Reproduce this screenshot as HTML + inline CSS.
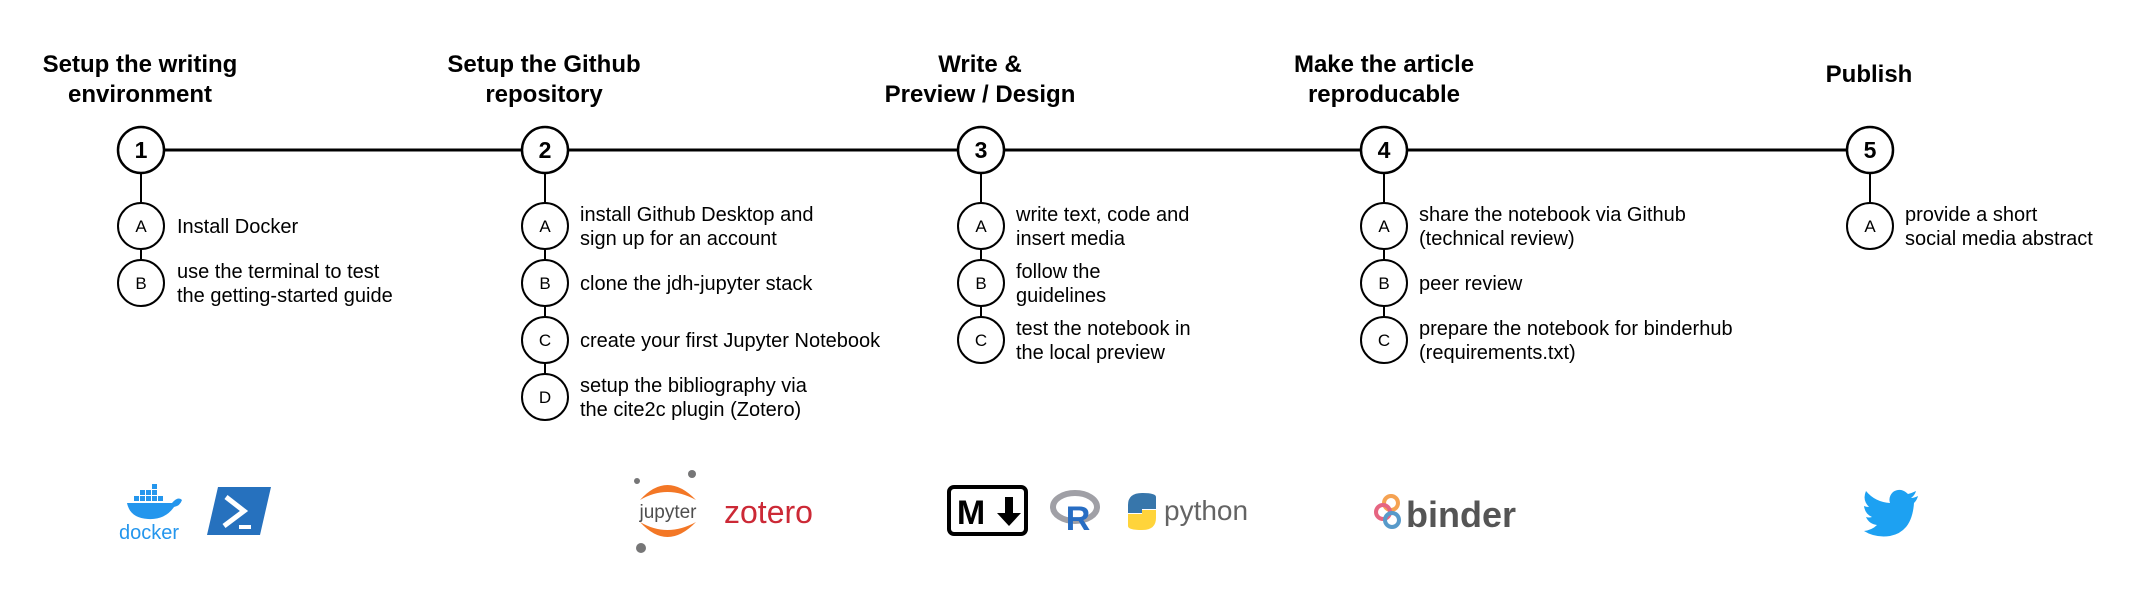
<!DOCTYPE html>
<html><head><meta charset="utf-8"><style>
html,body{margin:0;padding:0;background:#fff;}
svg{display:block}
.t{font-family:"Liberation Sans",sans-serif;font-weight:bold;font-size:24px;fill:#000;text-anchor:middle}
.s{font-family:"Liberation Sans",sans-serif;font-size:20px;fill:#000}
.n{font-family:"Liberation Sans",sans-serif;font-weight:bold;font-size:23px;text-anchor:middle}
.l{font-family:"Liberation Sans",sans-serif;font-size:17px;text-anchor:middle}
</style></head><body>
<svg width="2130" height="609" viewBox="0 0 2130 609" xmlns="http://www.w3.org/2000/svg">
<g stroke="#000" fill="none">
<line x1="141" y1="150" x2="1870" y2="150" stroke-width="3"/>
<line x1="141" y1="150" x2="141" y2="283" stroke-width="2"/>
<line x1="545" y1="150" x2="545" y2="397" stroke-width="2"/>
<line x1="981" y1="150" x2="981" y2="340" stroke-width="2"/>
<line x1="1384" y1="150" x2="1384" y2="340" stroke-width="2"/>
<line x1="1870" y1="150" x2="1870" y2="226" stroke-width="2"/>
</g>
<g stroke="#000" stroke-width="2.5" fill="#fff">
<circle cx="141" cy="150" r="23"/><circle cx="545" cy="150" r="23"/><circle cx="981" cy="150" r="23"/><circle cx="1384" cy="150" r="23"/><circle cx="1870" cy="150" r="23"/>
</g>
<g stroke="#000" stroke-width="2" fill="#fff">
<circle cx="141" cy="226" r="23"/><circle cx="141" cy="283" r="23"/>
<circle cx="545" cy="226" r="23"/><circle cx="545" cy="283" r="23"/><circle cx="545" cy="340" r="23"/><circle cx="545" cy="397" r="23"/>
<circle cx="981" cy="226" r="23"/><circle cx="981" cy="283" r="23"/><circle cx="981" cy="340" r="23"/>
<circle cx="1384" cy="226" r="23"/><circle cx="1384" cy="283" r="23"/><circle cx="1384" cy="340" r="23"/>
<circle cx="1870" cy="226" r="23"/>
</g>
<g class="n">
<text x="141" y="158">1</text><text x="545" y="158">2</text><text x="981" y="158">3</text><text x="1384" y="158">4</text><text x="1870" y="158">5</text>
</g>
<g class="l">
<text x="141" y="232">A</text><text x="141" y="289">B</text>
<text x="545" y="232">A</text><text x="545" y="289">B</text><text x="545" y="346">C</text><text x="545" y="403">D</text>
<text x="981" y="232">A</text><text x="981" y="289">B</text><text x="981" y="346">C</text>
<text x="1384" y="232">A</text><text x="1384" y="289">B</text><text x="1384" y="346">C</text>
<text x="1870" y="232">A</text>
</g>
<g class="t">
<text x="140" y="72">Setup the writing</text><text x="140" y="102">environment</text>
<text x="544" y="72">Setup the Github</text><text x="544" y="102">repository</text>
<text x="980" y="72">Write &amp;</text><text x="980" y="102">Preview / Design</text>
<text x="1384" y="72">Make the article</text><text x="1384" y="102">reproducable</text>
<text x="1869" y="82">Publish</text>
</g>
<g class="s">
<text x="177" y="233">Install Docker</text>
<text x="177" y="278">use the terminal to test</text><text x="177" y="302">the getting-started guide</text>
<text x="580" y="221">install Github Desktop and</text><text x="580" y="245">sign up for an account</text>
<text x="580" y="290">clone the jdh-jupyter stack</text>
<text x="580" y="347">create your first Jupyter Notebook</text>
<text x="580" y="392">setup the bibliography via</text><text x="580" y="416">the cite2c plugin (Zotero)</text>
<text x="1016" y="221">write text, code and</text><text x="1016" y="245">insert media</text>
<text x="1016" y="278">follow the</text><text x="1016" y="302">guidelines</text>
<text x="1016" y="335">test the notebook in</text><text x="1016" y="359">the local preview</text>
<text x="1419" y="221">share the notebook via Github</text><text x="1419" y="245">(technical review)</text>
<text x="1419" y="290">peer review</text>
<text x="1419" y="335">prepare the notebook for binderhub</text><text x="1419" y="359">(requirements.txt)</text>
<text x="1905" y="221">provide a short</text><text x="1905" y="245">social media abstract</text>
</g>
<!-- docker -->
<g fill="#2496ed">
<path d="M127 503 L172 503 Q178 496 182 500 Q180 506 174 507 Q165 520 148 519 Q130 518 127 503Z"/>
<rect x="134" y="496" width="5" height="5"/><rect x="140" y="496" width="5" height="5"/><rect x="146" y="496" width="5" height="5"/><rect x="152" y="496" width="5" height="5"/><rect x="158" y="496" width="5" height="5"/>
<rect x="140" y="490" width="5" height="5"/><rect x="146" y="490" width="5" height="5"/><rect x="152" y="490" width="5" height="5"/><rect x="152" y="484" width="5" height="5"/>
<text x="149" y="539" font-family="Liberation Sans,sans-serif" font-size="20" text-anchor="middle">docker</text>
</g>
<!-- powershell -->
<path d="M218 487 L271 487 L260 535 L207 535Z" fill="#2671be"/>
<path d="M226 497 L244 511 L224 526" stroke="#fff" stroke-width="5" fill="none"/>
<line x1="239" y1="527" x2="251" y2="527" stroke="#fff" stroke-width="4"/>
<!-- jupyter -->
<path d="M640 500 Q667 470 696 500 Q667 484 640 500Z" fill="#f37726"/>
<path d="M640 522 Q667 552 696 522 Q667 538 640 522Z" fill="#f37726"/>
<circle cx="692" cy="474" r="4" fill="#767677"/><circle cx="637" cy="481" r="3" fill="#767677"/><circle cx="641" cy="548" r="5" fill="#767677"/>
<text x="668" y="518" font-family="Liberation Sans,sans-serif" font-size="19" fill="#4e4e4e" text-anchor="middle">jupyter</text>
<text x="724" y="523" font-family="Liberation Sans,sans-serif" font-size="32" fill="#cc2936">zotero</text>
<!-- markdown -->
<rect x="949" y="487" width="77" height="47" rx="5" fill="#fff" stroke="#000" stroke-width="4"/>
<text x="971" y="524" font-family="Liberation Sans,sans-serif" font-weight="bold" font-size="34" text-anchor="middle">M</text>
<path d="M1005 497 L1005 513 L997 513 L1009 526 L1021 513 L1013 513 L1013 497Z" fill="#000"/>
<!-- R -->
<ellipse cx="1075" cy="507" rx="22" ry="14" fill="none" stroke="#a0a0a6" stroke-width="6"/>
<text x="1078" y="530" font-family="Liberation Sans,sans-serif" font-weight="bold" font-size="34" fill="#276dc3" text-anchor="middle">R</text>
<!-- python -->
<path d="M1142 493 Q1128 493 1128 505 L1128 513 L1142 513 L1142 509 L1156 509 L1156 497 Q1156 493 1142 493Z" fill="#3776ab"/>
<path d="M1142 530 Q1156 530 1156 518 L1156 510 L1142 510 L1142 514 L1128 514 L1128 526 Q1128 530 1142 530Z" fill="#ffd43b"/>
<text x="1164" y="520" font-family="Liberation Sans,sans-serif" font-size="28" fill="#646464">python</text>
<!-- binder -->
<circle cx="1391" cy="503" r="7" fill="none" stroke="#f5a252" stroke-width="4"/>
<circle cx="1383" cy="512" r="7" fill="none" stroke="#e66581" stroke-width="4"/>
<circle cx="1392" cy="520" r="7" fill="none" stroke="#579aca" stroke-width="4"/>
<text x="1406" y="527" font-family="Liberation Sans,sans-serif" font-weight="bold" font-size="36" fill="#555">binder</text>
<!-- twitter -->
<path d="M1918 496 Q1914 498 1911 498 Q1915 495 1916 491 Q1912 493 1908 494 Q1901 487 1893 492 Q1888 497 1890 503 Q1875 502 1866 491 Q1862 500 1869 507 Q1866 507 1864 506 Q1865 514 1872 517 Q1869 518 1866 517 Q1869 524 1877 525 Q1872 530 1864 531 Q1875 538 1890 536 Q1912 532 1914 503 Q1917 500 1918 496Z" fill="#1da1f2"/>
</svg>
</body></html>
